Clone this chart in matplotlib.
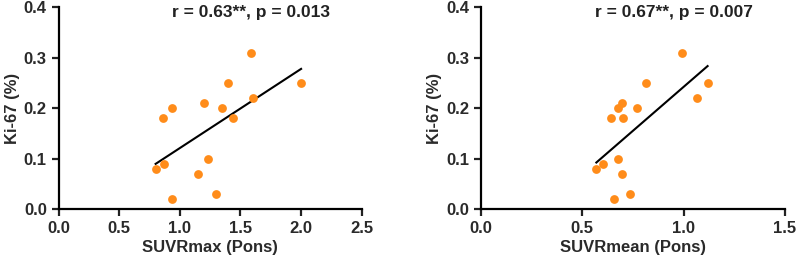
import numpy as np
import matplotlib
matplotlib.use("Agg")
from matplotlib import pyplot as plt

# data
suvr_max = [0.80, 0.87, 0.935, 0.86, 0.935, 1.20, 1.15, 1.23, 1.30, 1.345, 1.394, 1.435, 1.584, 1.60, 2.00]
ki67_max = [0.08, 0.09, 0.02, 0.18, 0.20, 0.21, 0.07, 0.10, 0.03, 0.20, 0.25, 0.18, 0.31, 0.22, 0.25]

suvr_mean = [0.569, 0.602, 0.658, 0.643, 0.678, 0.696, 0.702, 0.676, 0.697, 0.734, 0.770, 0.814, 0.990, 1.064, 1.118]
ki67_mean = [0.08, 0.09, 0.02, 0.18, 0.20, 0.21, 0.18, 0.10, 0.07, 0.03, 0.20, 0.25, 0.31, 0.22, 0.25]

titles = ["r = 0.63**, p = 0.013", "r = 0.67**, p = 0.007"]
xlabels = ["SUVRmax (Pons)", "SUVRmean (Pons)"]
xlims = [2.5, 1.5]

ORANGE = "#FF8C1A"
plt.rcParams["font.family"] = ["Liberation Sans", "DejaVu Sans"]
plt.rcParams["font.weight"] = "bold"

fig = plt.figure(figsize=(7.96, 2.64), dpi=100)
ax1 = fig.add_axes([0.0737, 0.2072, 0.3807, 0.7651])
ax2 = fig.add_axes([0.6043, 0.2072, 0.3819, 0.7651])

panels = [(ax1, suvr_max, ki67_max), (ax2, suvr_mean, ki67_mean)]
for i, (ax, x, y) in enumerate(panels):
    x = np.array(x)
    y = np.array(y)
    ax.scatter(x, y, s=40, color=ORANGE, zorder=3, linewidths=0)

    # linear fit over data range
    k, b = np.polyfit(x, y, 1)
    xs = np.array([x.min(), x.max()])
    ax.plot(xs, k * xs + b, color="black", lw=1.5, zorder=2)

    ax.set_xlim(0, xlims[i])
    ax.set_ylim(0, 0.4)
    ax.set_xticks(np.arange(0, xlims[i] + 0.01, 0.5))
    ax.set_yticks(np.arange(0, 0.41, 0.1))
    ax.xaxis.set_major_formatter(matplotlib.ticker.FormatStrFormatter("%.1f"))
    ax.yaxis.set_major_formatter(matplotlib.ticker.FormatStrFormatter("%.1f"))

    for s in ["top", "right"]:
        ax.spines[s].set_visible(False)
    for s in ["left", "bottom"]:
        ax.spines[s].set_linewidth(1.6)
    ax.tick_params(width=1.6, length=5, labelsize=12, colors="#222222", labelcolor="#2a2a2a")

    ax.set_xlabel(xlabels[i], fontsize=12, fontweight="bold", color="#2a2a2a", labelpad=3)
    ax.set_ylabel("Ki-67 (%)", fontsize=12, fontweight="bold", color="#2a2a2a", labelpad=3)
    ax.text(0.635, 0.975, titles[i], transform=ax.transAxes, ha="center", va="center",
            fontsize=12.5, fontweight="bold", color="#222222")

fig.savefig("out.png", dpi=100)
